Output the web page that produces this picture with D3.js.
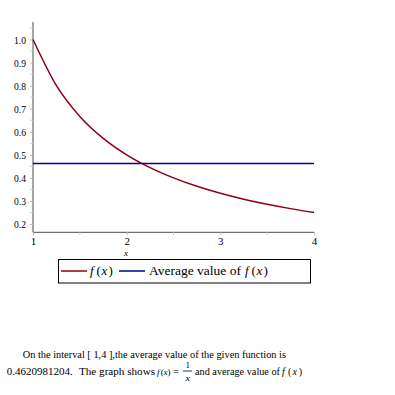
<!DOCTYPE html>
<html><head><meta charset="utf-8">
<script src="https://cdn.jsdelivr.net/npm/d3@7"></script>
<style>body{margin:0;background:#fff}svg{display:block}svg text{font-family:"Liberation Serif","Times New Roman","DejaVu Serif",serif !important}</style>
</head><body>
<svg id="c" width="395" height="395"></svg>
<script>
const xs = [1, 1.25, 1.5, 1.75, 2, 2.25, 2.5, 2.75, 3, 3.25, 3.5, 3.75, 4];
const fValues = [1, 0.8, 0.6667, 0.5714, 0.5, 0.4444, 0.4, 0.3636, 0.3333, 0.3077, 0.2857, 0.2667, 0.25];
const averageValue = 0.4620981204;
const xTicks = [1, 2, 3, 4];
const yTicks = [0.2, 0.3, 0.4, 0.5, 0.6, 0.7, 0.8, 0.9, 1.0];
const legendLabels = ["f(x)", "Average value of f(x)"];

const svg = d3.select("#c");
const x = d3.scaleLinear().domain([1, 4]).range([33, 314]);
const y = d3.scaleLinear().domain([0.164, 1.076]).range([232.3, 22]);
const red = "#8c0018", blue = "#00009c", axisCol = "#4a4a4a";

// y axis
const yAxis = d3.axisLeft(y).tickValues(yTicks).tickFormat(d3.format(".1f")).tickSize(3).tickPadding(4);
const gy = svg.append("g").attr("transform", "translate(33,0)").call(yAxis);
gy.attr("font-family", null);
gy.select(".domain").attr("stroke", axisCol).attr("d", `M0,${y.range()[0]}V${y.range()[1]}`);
gy.selectAll(".tick line").attr("stroke", "#bbb");
gy.selectAll(".tick text").attr("font-size", 11).attr("fill", "#000").attr("textLength", 12).attr("lengthAdjust", "spacingAndGlyphs");
const yMinor = d3.range(0.15, 1.08, 0.05).filter(v => v >= 0.164 && v <= 1.076 && Math.abs(v * 10 - Math.round(v * 10)) > 0.01);
svg.append("g").selectAll("line").data(yMinor).join("line")
  .attr("x1", 30).attr("x2", 33).attr("y1", d => y(d)).attr("y2", d => y(d)).attr("stroke", "#ccc");

// x axis
const xAxis = d3.axisBottom(x).tickValues(xTicks).tickFormat(d3.format("d")).tickSize(3).tickPadding(2);
const gx = svg.append("g").attr("transform", "translate(0,232.3)").call(xAxis);
gx.attr("font-family", null);
gx.select(".domain").attr("stroke", axisCol).attr("d", `M${x.range()[0]},0H${x.range()[1]}`);
gx.selectAll(".tick line").attr("stroke", "#bbb");
gx.selectAll(".tick text").attr("font-size", 11).attr("fill", "#000");
svg.append("g").selectAll("line").data([1.5, 2.5, 3.5]).join("line")
  .attr("x1", d => x(d)).attr("x2", d => x(d)).attr("y1", 232.3).attr("y2", 235).attr("stroke", "#ccc");

svg.append("text").attr("x", 126).attr("y", 256).attr("text-anchor", "middle")
  .attr("font-size", 9).attr("font-style", "italic").text("x");

// average line
svg.append("line").attr("x1", x(1)).attr("x2", x(4))
  .attr("y1", y(averageValue)).attr("y2", y(averageValue))
  .attr("stroke", blue).attr("stroke-width", 1.5);

// curve
const line = d3.line().x((d, i) => x(xs[i])).y(d => y(d)).curve(d3.curveMonotoneX);
svg.append("path").datum(fValues).attr("d", line).attr("fill", "none")
  .attr("stroke", red).attr("stroke-width", 1.5);

// legend
svg.append("rect").attr("x", 58.5).attr("y", 259.5).attr("width", 252).attr("height", 23.5)
  .attr("fill", "#fff").attr("stroke", "#000");
svg.append("line").attr("x1", 61).attr("x2", 87).attr("y1", 271).attr("y2", 271).attr("stroke", red).attr("stroke-width", 1.5);
svg.append("line").attr("x1", 119).attr("x2", 145).attr("y1", 271).attr("y2", 271).attr("stroke", blue).attr("stroke-width", 1.5);

// f(x) placed glyph by glyph inside [x0, x1]
function putFx(x0, x1, yb, size) {
  const w = x1 - x0;
  const parts = [["f", 0, true], ["(", 0.28, false], ["x", 0.5, true], [")", 0.8, false]];
  parts.forEach(([s, fr, it]) => {
    const t = svg.append("text").attr("x", x0 + fr * w).attr("y", yb).attr("font-size", size).text(s);
    if (it) t.attr("font-style", "italic");
  });
}
putFx(90, 113, 275, 13);
svg.append("text").attr("x", 149).attr("y", 275).attr("font-size", 13)
  .attr("textLength", 92).attr("lengthAdjust", "spacingAndGlyphs")
  .text(legendLabels[1].replace(" f(x)", ""));
putFx(245, 268, 275, 13);

// caption
function put(str, x0, x1, yb, italic, size) {
  const t = svg.append("text").attr("x", x0).attr("y", yb).attr("font-size", size || 10.5)
    .attr("textLength", x1 - x0).attr("lengthAdjust", "spacingAndGlyphs");
  if (italic) t.attr("font-style", "italic");
  t.text(str);
  return t;
}
put("On the interval [ 1,4 ],the  average value of the given function is", 22.7, 286, 357.5);
put(d3.format(".10f")(averageValue) + ".", 6.7, 72.7, 375);
put("The graph shows", 79, 155, 375);
putFx(157, 170, 375, 9);
put("=", 173, 179, 375);
put("1", 185.5, 190, 367.5, false, 9);
svg.append("line").attr("x1", 183).attr("x2", 192).attr("y1", 371).attr("y2", 371).attr("stroke", "#000").attr("stroke-width", 0.8);
put("x", 185.5, 190, 381, true, 9);
put("and average value of", 195, 280, 375);
putFx(282, 303, 375, 10);
</script>
</body></html>
